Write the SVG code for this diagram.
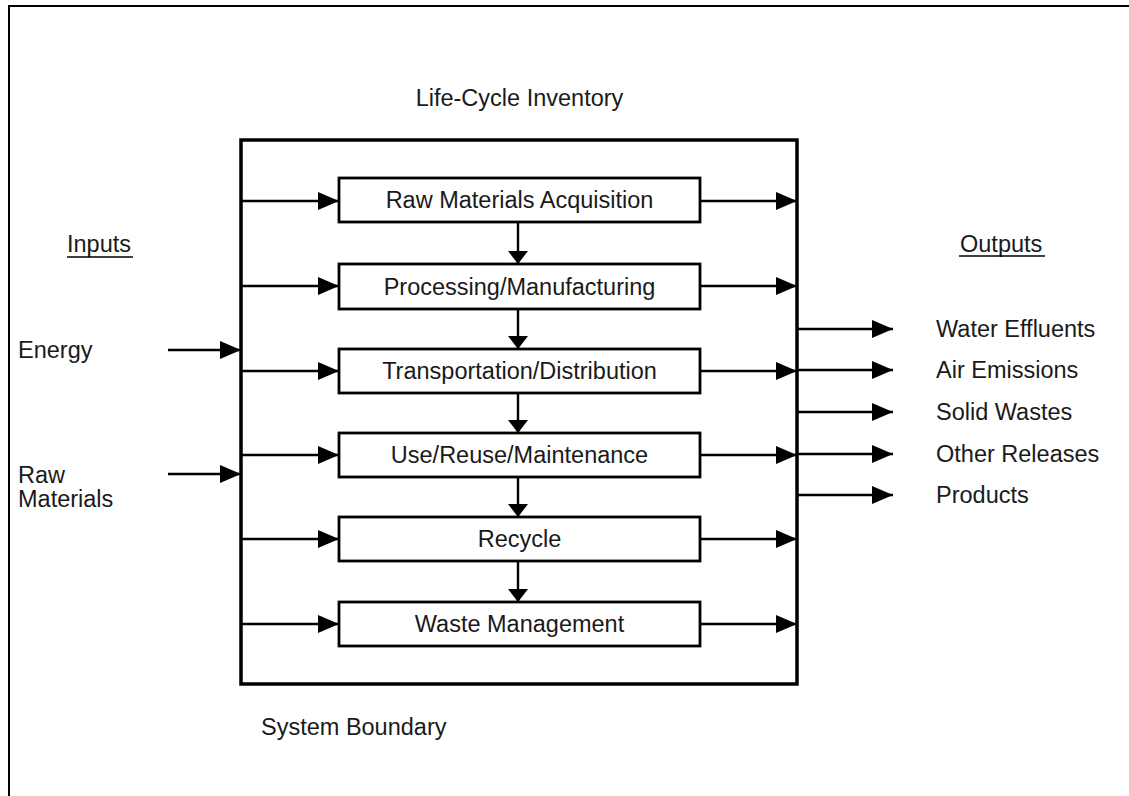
<svg xmlns="http://www.w3.org/2000/svg" width="1129" height="796" viewBox="0 0 1129 796">
<defs>
<marker id="ah" markerUnits="userSpaceOnUse" markerWidth="22" markerHeight="20" refX="21" refY="9" orient="auto">
<path d="M0,0 L21,9 L0,18 z" fill="#000"/>
</marker>
<marker id="ad" markerUnits="userSpaceOnUse" markerWidth="14" markerHeight="22" refX="13" refY="10" orient="auto">
<path d="M0,0 L13,10 L0,20 z" fill="#000"/>
</marker>
<style>
text{font-family:"Liberation Sans",Arial,sans-serif;font-size:23.5px;fill:#1a1a1a}
.box{fill:#fff;stroke:#000;stroke-width:2.8}
.c{text-anchor:middle}
.ln{stroke:#000;stroke-width:2.4;fill:none}
.ar{stroke:#000;stroke-width:2.4;fill:none;marker-end:url(#ah)}
.dn{stroke:#000;stroke-width:2.4;fill:none;marker-end:url(#ad)}
</style>
</defs>
<rect width="1129" height="796" fill="#fff"/>
<path d="M9,796 V6 H1129" fill="none" stroke="#000" stroke-width="2"/>

<g id="titles">
<text class="c" x="519.5" y="106">Life-Cycle Inventory</text>
<text x="261" y="735">System Boundary</text>
</g>

<g id="boundary">
<rect x="241" y="140" width="556" height="544" fill="none" stroke="#000" stroke-width="3.5"/>
</g>

<g id="inputs">
<text x="67" y="252">Inputs</text>
<line x1="67" y1="257" x2="133" y2="257" stroke="#000" stroke-width="1.6"/>
<text x="18" y="358">Energy</text>
<text x="18" y="483">Raw</text>
<text x="18" y="507">Materials</text>
</g>

<g id="outputs">
<text x="960" y="252">Outputs</text>
<line x1="959" y1="256" x2="1045" y2="256" stroke="#000" stroke-width="1.6"/>
<text x="936" y="337">Water Effluents</text>
<text x="936" y="378">Air Emissions</text>
<text x="936" y="420">Solid Wastes</text>
<text x="936" y="462">Other Releases</text>
<text x="936" y="503">Products</text>
</g>

<g id="connectors">
<line class="ar" x1="168" y1="350" x2="241" y2="350"/>
<line class="ar" x1="168" y1="474" x2="241" y2="474"/>
<line class="ar" x1="241" y1="201" x2="339" y2="201"/>
<line class="ar" x1="241" y1="286" x2="339" y2="286"/>
<line class="ar" x1="241" y1="371" x2="339" y2="371"/>
<line class="ar" x1="241" y1="455" x2="339" y2="455" stroke-width="3"/>
<line class="ar" x1="241" y1="539" x2="339" y2="539" stroke-width="3"/>
<line class="ar" x1="241" y1="624" x2="339" y2="624"/>
<line class="ar" x1="700" y1="201" x2="797" y2="201"/>
<line class="ar" x1="700" y1="286" x2="797" y2="286"/>
<line class="ar" x1="700" y1="371" x2="797" y2="371"/>
<line class="ar" x1="700" y1="455" x2="797" y2="455" stroke-width="3"/>
<line class="ar" x1="700" y1="539" x2="797" y2="539" stroke-width="3"/>
<line class="ar" x1="700" y1="624" x2="797" y2="624"/>
<line class="ar" x1="797" y1="329" x2="893" y2="329"/>
<line class="ar" x1="797" y1="370" x2="893" y2="370"/>
<line class="ar" x1="797" y1="412" x2="893" y2="412"/>
<line class="ar" x1="797" y1="454" x2="893" y2="454" stroke-width="3"/>
<line class="ar" x1="797" y1="495" x2="893" y2="495"/>
<line class="dn" x1="518" y1="222" x2="518" y2="264"/>
<line class="dn" x1="518" y1="308" x2="518" y2="349"/>
<line class="dn" x1="518" y1="393" x2="518" y2="433"/>
<line class="dn" x1="518" y1="477" x2="518" y2="517"/>
<line class="dn" x1="518" y1="561" x2="518" y2="602"/>
</g>

<g id="n1"><rect class="box" x="339" y="178" width="361" height="44"/><text class="c" x="519.5" y="208">Raw Materials Acquisition</text></g>
<g id="n2"><rect class="box" x="339" y="264" width="361" height="45"/><text class="c" x="519.5" y="295">Processing/Manufacturing</text></g>
<g id="n3"><rect class="box" x="339" y="349" width="361" height="44"/><text class="c" x="519.5" y="379">Transportation/Distribution</text></g>
<g id="n4"><rect class="box" x="339" y="433" width="361" height="44"/><text class="c" x="519.5" y="463">Use/Reuse/Maintenance</text></g>
<g id="n5"><rect class="box" x="339" y="517" width="361" height="44"/><text class="c" x="519.5" y="547">Recycle</text></g>
<g id="n6"><rect class="box" x="339" y="602" width="361" height="44"/><text class="c" x="519.5" y="632">Waste Management</text></g>
</svg>
